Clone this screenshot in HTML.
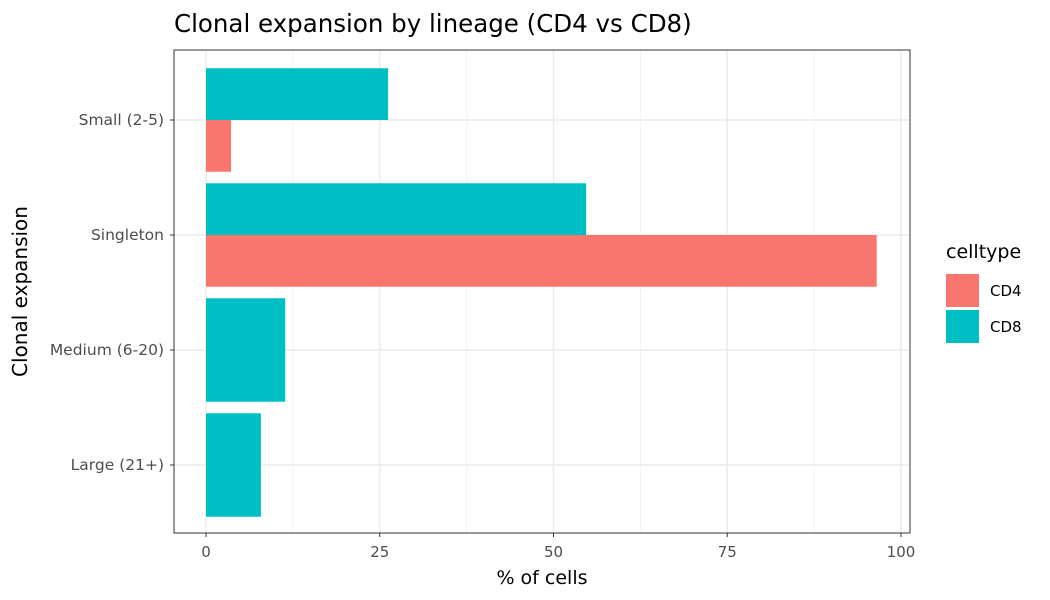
<!DOCTYPE html>
<html><head><meta charset="utf-8"><style>
html,body{margin:0;padding:0;background:#fff;}
svg{display:block;font-family:"DejaVu Sans","Liberation Sans",sans-serif;}
</style></head><body>
<svg id="chart" width="1050" height="600"></svg>
<script>
const categories = ["Small (2-5)", "Singleton", "Medium (6-20)", "Large (21+)"];
const cd4Values = [3.6, 96.5, null, null];
const cd8Values = [26.2, 54.7, 11.4, 7.9];
const xTicks = [0, 25, 50, 75, 100];
const seriesNames = ["CD4", "CD8"];
const colors = {CD4: "#F8766D", CD8: "#00BFC4"};

const NS = "http://www.w3.org/2000/svg";
const svg = document.getElementById("chart");
const P = {l: 174, r: 910, t: 50, b: 533};
const x = v => 206 + v * (901 - 206) / 100;
const yC = i => 120 + i * 115;
const band = 103.5;
function mk(tag, attrs, parent) {
  const e = document.createElementNS(NS, tag);
  for (const k in attrs) e.setAttribute(k, attrs[k]);
  (parent || svg).appendChild(e);
  return e;
}
const panel = mk("rect", {x: P.l, y: P.t, width: P.r - P.l, height: P.b - P.t, fill: "#fff"});


for (let i = 0; i < xTicks.length - 1; i++) {
  const xv = x((xTicks[i] + xTicks[i + 1]) / 2);
  const g = mk("line", {x1: xv, x2: xv, y1: P.t, y2: P.b, stroke: "#f0f0f0", "stroke-width": 0.8});
  
  
}
xTicks.forEach(t => {
  const g = mk("line", {x1: x(t), x2: x(t), y1: P.t, y2: P.b, stroke: "#ebebeb", "stroke-width": 1.5});
  
  
  const tk = mk("line", {x1: x(t), x2: x(t), y1: P.b, y2: P.b + 4, stroke: "#333"});
  
  
  const lb = mk("text", {x: x(t), y: P.b + 24, "text-anchor": "middle", "font-size": 15, fill: "#4d4d4d"});
  lb.textContent = t;
  
  
});
categories.forEach((c, i) => {
  const g = mk("line", {x1: P.l, x2: P.r, y1: yC(i), y2: yC(i), stroke: "#ebebeb", "stroke-width": 1.5});
  
  
  const tk = mk("line", {x1: P.l - 4, x2: P.l, y1: yC(i), y2: yC(i), stroke: "#333"});
  
  
  const lb = mk("text", {x: P.l - 10, y: yC(i) + 5, "text-anchor": "end", "font-size": 15.5, fill: "#4d4d4d"});
  lb.textContent = c;
  
  
});
categories.forEach((c, i) => {
  const a = cd4Values[i], b = cd8Values[i];
  const top = yC(i) - band / 2;
  if (a != null && b != null) {
    const r1 = mk("rect", {x: x(0), y: top, width: x(b) - x(0), height: band / 2, fill: colors.CD8});
    
    
    const r2 = mk("rect", {x: x(0), y: top + band / 2, width: x(a) - x(0), height: band / 2, fill: colors.CD4});
    
    
  } else {
    const v = b != null ? b : a;
    const r = mk("rect", {x: x(0), y: top, width: x(v) - x(0), height: band, fill: b != null ? colors.CD8 : colors.CD4});
    
    
  }
});
const border = mk("rect", {x: P.l, y: P.t, width: P.r - P.l, height: P.b - P.t, fill: "none", stroke: "#333", "stroke-width": 1});


const title = mk("text", {x: 174, y: 32, "font-size": 24.5, fill: "#000"});
title.textContent = "Clonal expansion by lineage (CD4 vs CD8)";


const xt = mk("text", {x: (P.l + P.r) / 2, y: 584, "text-anchor": "middle", "font-size": 19});
xt.textContent = "% of cells";


const yt = mk("text", {x: 0, y: 0, "text-anchor": "middle", "font-size": 20, transform: `translate(27,${(P.t + P.b) / 2}) rotate(-90)`});
yt.textContent = "Clonal expansion";


const lt = mk("text", {x: 946, y: 258, "font-size": 19});
lt.textContent = "celltype";


seriesNames.forEach((s, i) => {
  const y0 = 274 + i * 36;
  const sw = mk("rect", {x: 946, y: y0, width: 33, height: 33, fill: colors[s]});
  
  
  const tx = mk("text", {x: 990, y: y0 + 22, "font-size": 15, fill: "#000"});
  tx.textContent = s;
  
  
});
</script>
</body></html>
